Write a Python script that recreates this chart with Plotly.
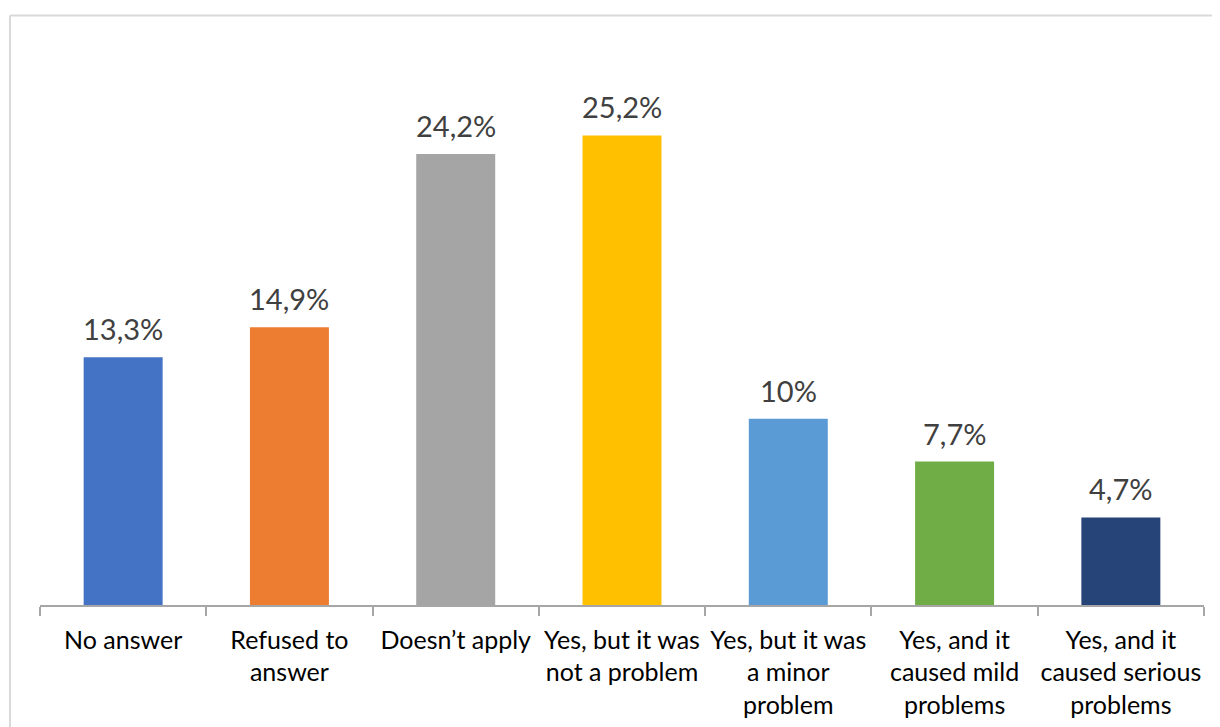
import plotly.graph_objects as go

categories = ["No answer", "Refused to<br>answer", "Doesn’t apply", "Yes, but it was<br>not a problem",
              "Yes, but it was<br>a minor<br>problem", "Yes, and it<br>caused mild<br>problems",
              "Yes, and it<br>caused serious<br>problems"]
values = [13.3, 14.9, 24.2, 25.2, 10.0, 7.7, 4.7]
labels = ["13,3%", "14,9%", "24,2%", "25,2%", "10%", "7,7%", "4,7%"]
colors = ["#4472C4", "#ED7D31", "#A5A5A5", "#FFC000", "#5B9BD5", "#70AD47", "#264478"]

FONT = "Lato"
fig = go.Figure()
fig.add_trace(go.Bar(x=categories, y=values, marker=dict(color=colors, line=dict(width=0)),
                     width=0.475, hoverinfo="skip"))

for c, v, t in zip(categories, values, labels):
    fig.add_annotation(x=c, y=v, text=t, showarrow=False, yanchor="bottom", yshift=9,
                       font=dict(family=FONT, size=29, color="#404040"))

# chart-area border (top and left edges visible)
fig.add_shape(type="line", xref="paper", yref="paper", x0=-0.0258, x1=1.3, y0=1.0545, y1=1.0545,
              line=dict(color="#d9d9d9", width=2), layer="below")
fig.add_shape(type="line", xref="paper", yref="paper", x0=-0.0258, x1=-0.0258, y0=-0.5, y1=1.0545,
              line=dict(color="#d9d9d9", width=2), layer="below")

fig.update_layout(
    width=1212, height=719,
    margin=dict(l=32, r=16, t=37.5, b=122, pad=0, autoexpand=False),
    paper_bgcolor="white", plot_bgcolor="white",
    showlegend=False,
    bargap=0.525,
    xaxis=dict(showline=True, linecolor="#a6a6a6", linewidth=1.5, ticks="outside", tickson="boundaries",
               ticklen=9, tickcolor="#a6a6a6", tickwidth=1.5, ticklabelstandoff=12,
               tickangle=0, automargin=False,
               tickfont=dict(family=FONT, size=25, color="#000000"), showgrid=False, fixedrange=True),
    yaxis=dict(range=[0, 30], visible=False, showgrid=False, zeroline=False, fixedrange=True),
)

fig.write_html("out.html")
